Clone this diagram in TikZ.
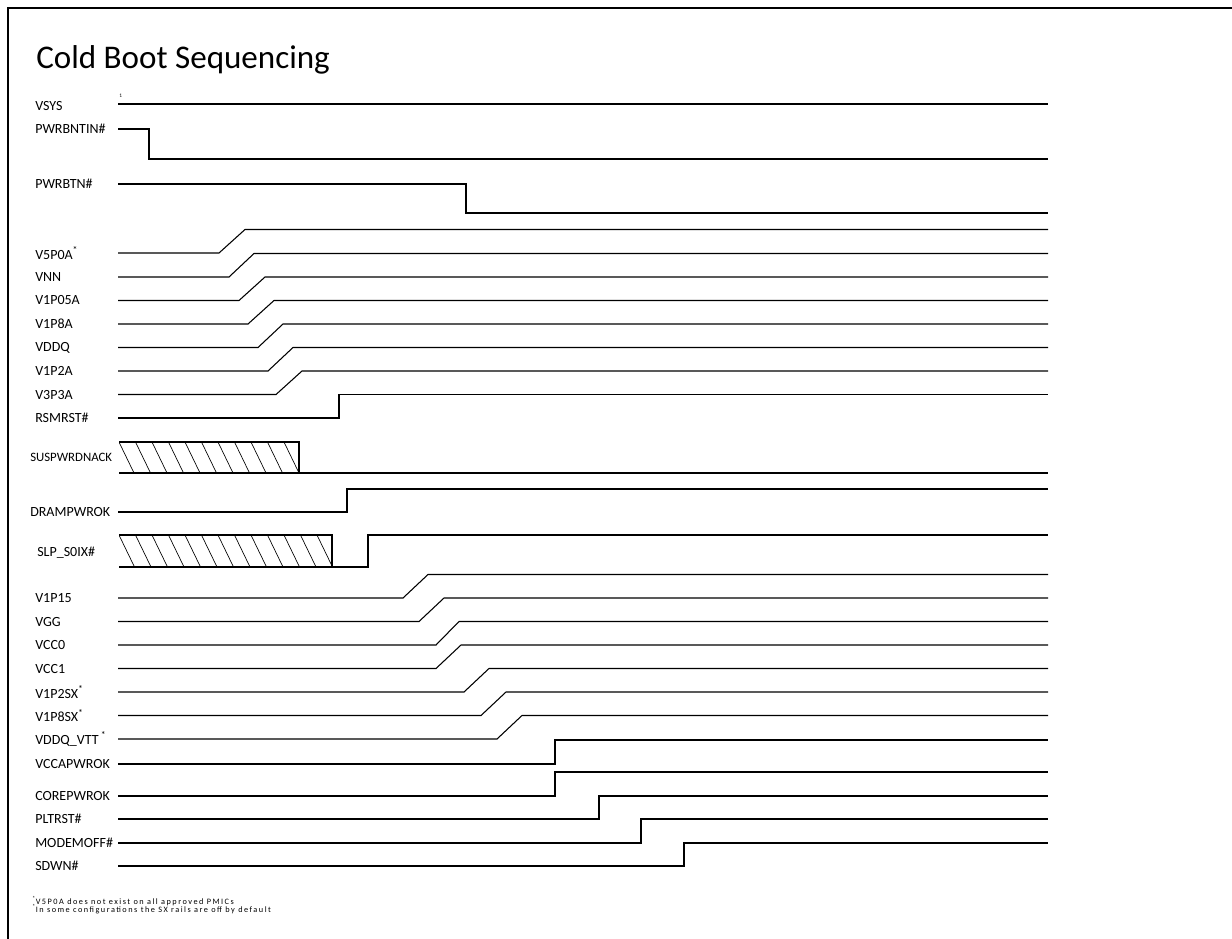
\documentclass[tikz,border=0pt]{standalone}
\usepackage{fontspec}
\setmainfont{Carlito}
\usepackage{tikz}
\usetikzlibrary{calc}
\newcommand{\starmark}{\textsuperscript{*}}

\begin{document}
\begin{tikzpicture}[x=0.75pt, y=-0.75pt,
    wave/.style={line width=0.8pt, line join=miter},
    hatch/.style={line width=0.5pt},
    lbl/.style={anchor=west, inner sep=0pt, font=\fontsize{10.5}{12}\selectfont},
    note/.style={anchor=west, inner sep=0pt, font=\fontsize{6.2}{7}\selectfont\addfontfeature{LetterSpace=18}}]
  \useasboundingbox (0,0) rectangle (1232,939);
  \draw[line width=1.5pt] (8,945) -- (8,7.5) -- (1240,7.5);

  \node[anchor=base west, inner sep=0pt, font=\fontsize{24.8}{28}\selectfont] (title) at (36,68) {Cold Boot Sequencing};

  % always-on and button inputs
  \node[lbl] (vsys) at (35,106) {VSYS};
  \node[anchor=west, inner sep=0pt, font=\fontsize{4}{4}\selectfont] (vsysnote) at (119,96) {1};
  \draw[wave] (118,104) -- (1048,104);
  \node[lbl] (pwrbntin) at (35,129) {PWRBNTIN\#};
  \draw[wave] (118,129) -- (149,129) -- (149,159) -- (1048,159);
  \node[lbl] (pwrbtn) at (35,184) {PWRBTN\#};
  \draw[wave] (118,184) -- (466,184) -- (466,213) -- (1048,213);

  % primary rails
  \foreach \name/\txt/\ylo/\xa/\xb in {v5p0a/{V5P0A\starmark}/253/219/245,
      vnn/VNN/277/229/254, v1p05a/V1P05A/300.5/239/265, v1p8a/V1P8A/324/248/274,
      vddq/VDDQ/347.5/258/283, v1p2a/V1P2A/371/268/293, v3p3a/V3P3A/394.5/276/302}{
    \node[lbl] (\name) at (35,\ylo) {\txt};
    \draw[wave] (118,\ylo) -- (\xa,\ylo) -- (\xb,\ylo-23.5) -- (1048,\ylo-23.5);
  }
  \node[lbl] (rsmrst) at (35,418) {RSMRST\#};
  \draw[wave] (118,418) -- (339,418) -- (339,394.5) -- (1048,394.5);

  % undefined states
  \node[lbl, font=\fontsize{9.6}{11}\selectfont] (suspwrdnack) at (30,457) {SUSPWRDNACK};
  \begin{scope}
    \clip (119,442) rectangle (299,473);
    \foreach \k in {-1,...,11} \draw[hatch] ({119+\k*16.5},442) -- ++(15,31);
  \end{scope}
  \draw[wave] (119,442) -- (299,442) -- (299,473);
  \draw[wave] (119,473) -- (1048,473);

  \node[lbl] (drampwrok) at (30,512) {DRAMPWROK};
  \draw[wave] (118,512) -- (347,512) -- (347,489) -- (1048,489);

  \node[lbl] (slps0ix) at (37,553) {SLP\_S0IX\#};
  \begin{scope}
    \clip (119,535) rectangle (332,567);
    \foreach \k in {-1,...,13} \draw[hatch] ({119+\k*16.5},535) -- ++(15.5,32);
  \end{scope}
  \draw[wave] (119,535) -- (332,535) -- (332,567);
  \draw[wave] (119,567) -- (368,567) -- (368,535) -- (1048,535);

  % core rails
  \foreach \name/\txt/\ylo/\xa/\xb in {v1p15/V1P15/598/403/428, vgg/VGG/621.5/419/444,
      vcc0/VCC0/645/436/459, vcc1/VCC1/668.5/436/461, v1p2sx/{V1P2SX\starmark}/692/464/489,
      v1p8sx/{V1P8SX\starmark}/715.5/481/506, vddqvtt/{VDDQ\_VTT\,\starmark}/739/497/522}{
    \node[lbl] (\name) at (35,\ylo) {\txt};
    \draw[wave] (118,\ylo) -- (\xa,\ylo) -- (\xb,\ylo-23.5) -- (1048,\ylo-23.5);
  }

  % power good and resets
  \foreach \name/\txt/\ylo/\xs/\yhi in {vccapwrok/VCCAPWROK/764/555/740,
      corepwrok/COREPWROK/796/555/772, pltrst/PLTRST\#/819/599/796,
      modemoff/MODEMOFF\#/843/641/819, sdwn/SDWN\#/866/684/843}{
    \node[lbl] (\name) at (35,\ylo) {\txt};
    \draw[wave] (118,\ylo) -- (\xs,\ylo) -- (\xs,\yhi) -- (1048,\yhi);
  }

  \node[note] (note1) at (32,901) {\starmark V5P0A does not exist on all approved PMICs};
  \node[note] (note2) at (32,909) {\starmark In some configurations the SX rails are off by default};
\end{tikzpicture}
\end{document}
